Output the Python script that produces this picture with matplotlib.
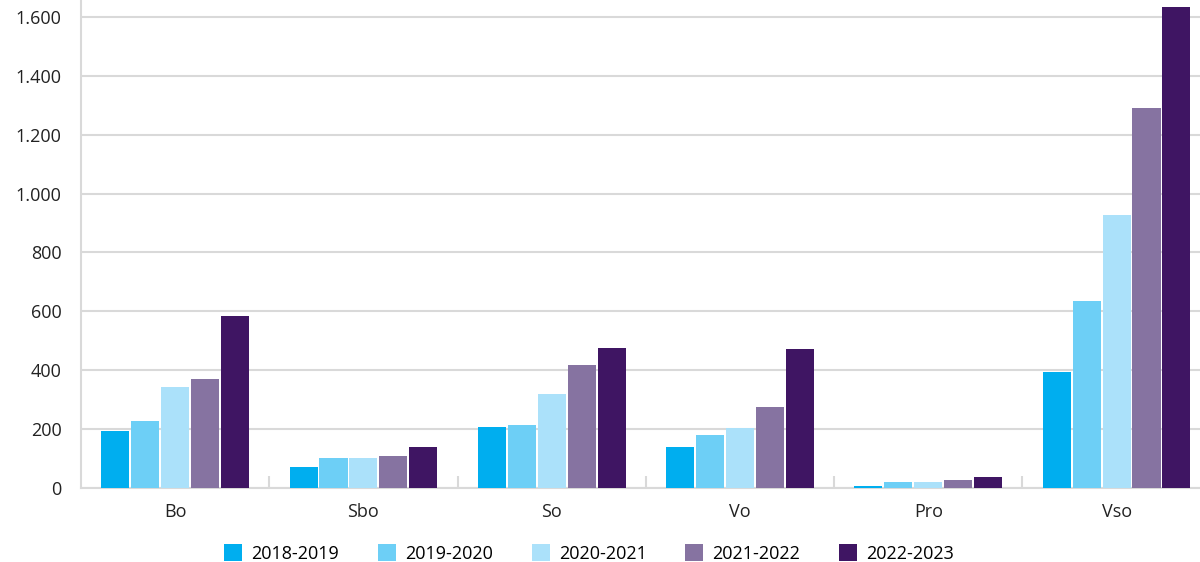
import matplotlib
matplotlib.use("Agg")
import matplotlib.pyplot as plt
import numpy as np
from matplotlib.ticker import FuncFormatter, FixedLocator

plt.rcParams['font.family'] = ['Open Sans', 'DejaVu Sans']

categories = ["Bo", "Sbo", "So", "Vo", "Pro", "Vso"]
years = ["2018-2019", "2019-2020", "2020-2021", "2021-2022", "2022-2023"]
v2018 = [194, 71, 208, 139, 7, 394]
v2019 = [228, 102, 214, 180, 20, 635]
v2020 = [343, 102, 319, 204, 22, 927]
v2021 = [370, 109, 418, 275, 27, 1291]
v2022 = [584, 139, 476, 472, 37, 1634]
series = [v2018, v2019, v2020, v2021, v2022]
colors = ["#00aeef", "#6dcff6", "#abe1fa", "#8673a1", "#3f1563"]

fig = plt.figure(figsize=(12, 5.62), dpi=100)
ax = fig.add_axes([81/1200, 74/562, 1 - 81/1200, 1 - 74/562])

x = np.arange(len(categories))
step = 0.159
width = 0.149
for i, (vals, col, lab) in enumerate(zip(series, colors, years)):
    ax.bar(x + (i - 2) * step, vals, width=width, color=col, label=lab, zorder=3)

ax.set_xlim(-0.5, 5.443)
ax.set_ylim(0, 1657.6)
ax.set_yticks(np.arange(0, 1601, 200))
ax.yaxis.set_major_formatter(FuncFormatter(lambda v, p: f"{int(v):,}".replace(",", ".")))
ax.grid(axis='y', color='#d9d9d9', linewidth=1.5, zorder=0)
ax.tick_params(axis='y', length=0, pad=14, labelsize=13, labelcolor='#222222')

ax.set_xticks(x)
ax.set_xticklabels(categories)
ax.tick_params(axis='x', which='major', length=0, pad=11, labelsize=13, labelcolor='#222222')
ax.xaxis.set_minor_locator(FixedLocator(np.arange(0.5, 5, 1)))
ax.tick_params(axis='x', which='minor', direction='in', length=9, width=1.5, color='#d9d9d9')

for s in ['top', 'right']:
    ax.spines[s].set_visible(False)
for s in ['left', 'bottom']:
    ax.spines[s].set_color('#d9d9d9')
    ax.spines[s].set_linewidth(1.5)

fig.legend(loc='lower center', bbox_to_anchor=(0.491, -0.03), ncol=5, frameon=False,
           fontsize=13, handlelength=1.0, handleheight=1.0, handletextpad=0.5,
           columnspacing=2.15)

fig.savefig("out.png", dpi=100)
